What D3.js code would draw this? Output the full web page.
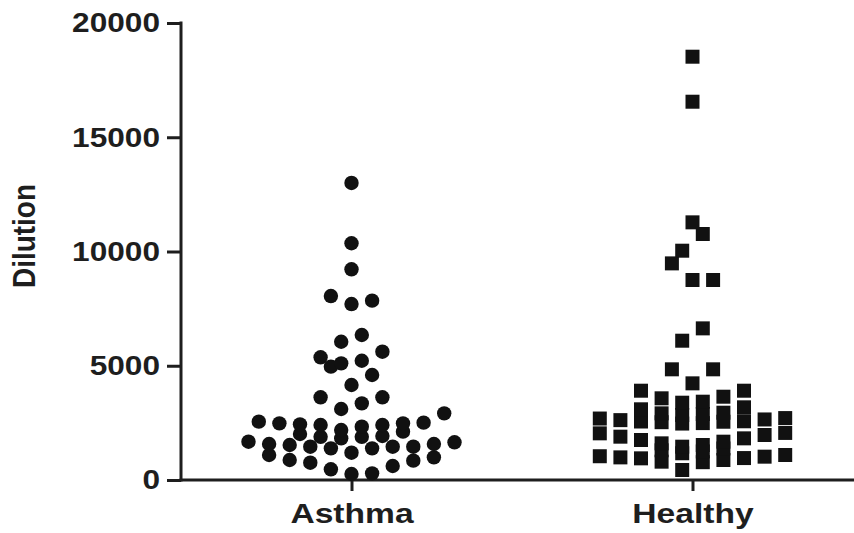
<!DOCTYPE html>
<html>
<head>
<meta charset="utf-8">
<script src="https://cdn.jsdelivr.net/npm/d3@7/dist/d3.min.js"></script>
<style>
  html, body { margin: 0; padding: 0; background: #ffffff; }
  svg { display: block; }
  .axis path, .axis line { stroke: #1e1e1e; stroke-width: 3px; }
  .axis text { fill: #1e1e1e; font-family: "Liberation Sans", Arial, sans-serif; font-weight: bold; font-size: 28px; }
  .ylabel { fill: #1e1e1e; font-family: "Liberation Sans", Arial, sans-serif; font-weight: bold; font-size: 28px; }
</style>
</head>
<body>
<svg id="chart" width="854" height="533"></svg>
<script>
// Groups on the x axis
const categories = ["Asthma", "Healthy"];

// Dilution values per subject
const asthma = [
  263, 292, 468, 613, 757, 846, 875, 992, 1094,
  1195, 1386, 1386, 1458, 1458, 1458, 1532, 1575, 1575, 1650, 1677,
  1823, 1890, 1890, 1925, 2013, 2115,
  2188, 2334, 2407, 2407, 2436, 2480, 2480, 2510, 2553, 2917,
  3107, 3355, 3619, 3619,
  4157, 4595, 4960,
  5105, 5220, 5370, 5615,
  6050, 6345,
  7700, 7850, 8050,
  9220, 10360, 13000
];
const healthy = [
  438, 780, 802, 875, 948, 960, 990, 1021, 1040, 1094,
  1170, 1250, 1300, 1380,
  1458, 1532, 1604, 1677, 1750, 1823, 1896, 1970, 2042, 2060,
  2470, 2490, 2530, 2550, 2560, 2570, 2620, 2650, 2690, 2710,
  2844, 2888, 2917, 2945, 3094, 3181,
  3383, 3427, 3575, 3645, 3908, 3908,
  4230, 4844, 4844,
  6096, 6636,
  8752, 8752, 9480,
  10035, 10765,
  11276, 16555, 18525
];

// Value bands used to spread the scatter points side by side
const asthmaBinEdges = [1150, 1750, 2150, 3000, 3900, 5050, 5800, 7000, 8500, 9800, 11000];
const healthyBinEdges = [1130, 1420, 2250, 2780, 3280, 4000, 5500, 7500, 9800, 11000, 12000, 17500];

const yTicks = [0, 5000, 10000, 15000, 20000];
const yMax = 20000;
const yTitle = "Dilution";

const groups = [
  { name: categories[0], values: asthma, edges: asthmaBinEdges, shape: d3.symbolCircle, size: Math.PI * 7.2 * 7.2 },
  { name: categories[1], values: healthy, edges: healthyBinEdges, shape: d3.symbolSquare, size: 14 * 14 }
];

const svg = d3.select("#chart");

// Text is drawn slightly widened
const textStretch = 1.13;
const labelStretch = 1.2;

const axisLeftX = 181;
const x = d3.scalePoint()
  .domain(categories)
  .range([axisLeftX, 863])
  .padding(0.5);

const y = d3.scaleLinear()
  .domain([0, yMax])
  .range([480, 23]);

// Horizontal spacing between neighbouring symbols in a band
const slotSpacing = 20.6;

// Place each band's points symmetrically around the group centre:
// smallest values in the middle, larger ones alternating outward.
function layout(group) {
  const bins = d3.bin()
    .domain([0, yMax])
    .thresholds(group.edges)(group.values);
  const pts = [];
  bins.forEach(bin => {
    const vals = bin.slice().sort(d3.ascending);
    const n = vals.length;
    vals.forEach((v, i) => {
      let slot;
      if (n % 2 === 1) {
        slot = i === 0 ? 0 : Math.ceil(i / 2) * (i % 2 === 1 ? 1 : -1);
      } else {
        slot = (Math.floor(i / 2) + 0.5) * (i % 2 === 0 ? -1 : 1);
      }
      pts.push({ value: v, slot: slot });
    });
  });
  return pts;
}

// Axes
svg.append("g")
  .attr("class", "axis")
  .attr("transform", `translate(0,${y(0)})`)
  .call(d3.axisBottom(x).tickSizeInner(11).tickSizeOuter(0).tickPadding(12))
  .call(g => g.selectAll("path.domain").attr("d", `M${axisLeftX - 1.5},0H863`))
  .call(g => g.selectAll(".tick text").attr("transform", `scale(${labelStretch},1)`));

svg.append("g")
  .attr("class", "axis")
  .attr("transform", `translate(${axisLeftX},0)`)
  .call(d3.axisLeft(y).tickValues(yTicks).tickSizeInner(14).tickSizeOuter(0).tickPadding(7)
        .tickFormat(d3.format("d")))
  .call(g => g.selectAll("path.domain").attr("d", `M0,${y(0) + 1.5}V${y(yMax) - 1.5}`))
  .call(g => g.selectAll(".tick text")
    .attr("x", -(14 + 7) / textStretch)
    .attr("transform", `scale(${textStretch},1)`));

// Y-axis title
svg.append("text")
  .attr("class", "ylabel")
  .attr("transform", `translate(35,236) scale(${textStretch},1) rotate(-90)`)
  .attr("text-anchor", "middle")
  .text(yTitle);

// Points
groups.forEach(group => {
  const sym = d3.symbol().type(group.shape).size(group.size);
  svg.append("g")
    .selectAll("path")
    .data(layout(group))
    .join("path")
    .attr("d", sym)
    .attr("fill", "#111111")
    .attr("transform", d => `translate(${x(group.name) + d.slot * slotSpacing},${y(d.value)})`);
});
</script>
</body>
</html>
